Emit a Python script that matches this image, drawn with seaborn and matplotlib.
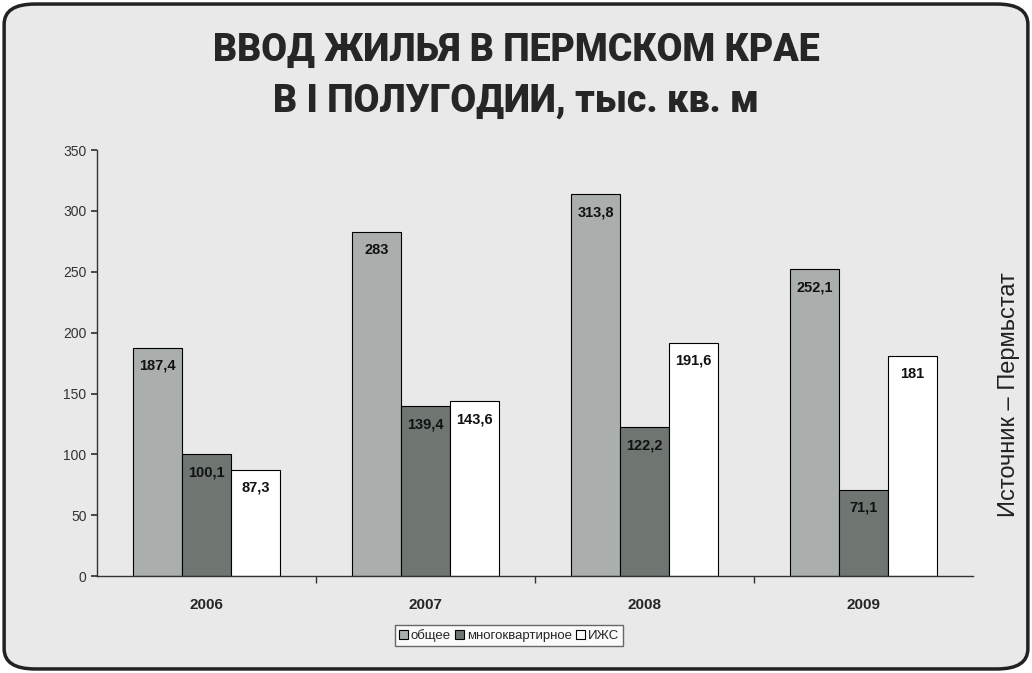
import matplotlib
matplotlib.use("Agg")
import matplotlib.pyplot as plt
from matplotlib.patches import FancyBboxPatch
import seaborn as sns
import pandas as pd

years = ['2006', '2007', '2008', '2009']
series = ['общее', 'многоквартирное', 'ИЖС']
total = [187.4, 283, 313.8, 252.1]
multi = [100.1, 139.4, 122.2, 71.1]
izhs = [87.3, 143.6, 191.6, 181]
colors = ['#a9b0ae', '#6e7772', '#ffffff']

df = pd.DataFrame({
    'year': years * 3,
    'type': [s for s in series for _ in years],
    'value': total + multi + izhs,
})

sns.set_theme(style="white")
plt.rcParams['font.family'] = ['Liberation Sans', 'DejaVu Sans']

fig = plt.figure(figsize=(10.32, 6.73), dpi=100)
fig.patch.set_facecolor('white')
bg = FancyBboxPatch((0.004, 0.006), 0.992, 0.988, boxstyle="round,pad=0,rounding_size=0.03",
                    transform=fig.transFigure, facecolor='#e9e9e9', edgecolor='#222222',
                    lw=2.5, zorder=-10)
fig.patches.append(bg)

ax = fig.add_axes([0.094, 0.144, 0.849, 0.633])
ax.set_facecolor('none')
sns.barplot(data=df, x='year', y='value', hue='type', palette=colors, width=0.67,
            edgecolor='black', linewidth=0.8, ax=ax, legend=True)

for cont in ax.containers:
    labels = [f"{v:g}".replace('.', ',') for v in cont.datavalues]
    ax.bar_label(cont, labels=labels, padding=-18, fontsize=10.5, fontweight='bold', color='#111111')

ax.set_ylim(0, 350)
ax.set_yticks(range(0, 351, 50))
ax.set_xlim(-0.5, 3.5)
ax.set_xlabel('')
ax.set_ylabel('')
for s in ['top', 'right']:
    ax.spines[s].set_visible(False)
for s in ['left', 'bottom']:
    ax.spines[s].set_color('#333333')
    ax.spines[s].set_linewidth(1)
ax.tick_params(axis='y', labelsize=10, color='#333333', length=4, left=True, labelcolor='#333333')
ax.tick_params(axis='x', labelsize=11, bottom=False, pad=10)
for lbl in ax.get_xticklabels():
    lbl.set_fontweight('bold')
ax.set_xticks([0.5, 1.5, 2.5], minor=True)
ax.tick_params(axis='x', which='minor', bottom=True, length=5, color='#333333')

ax.legend(loc='upper center', bbox_to_anchor=(0.47, -0.1), ncol=3, fontsize=9.5,
          frameon=True, fancybox=False, edgecolor='#444444', handlelength=0.7,
          handleheight=0.7, handletextpad=0.2, columnspacing=0.3, borderpad=0.3)

fig.text(0.5, 0.925, 'ВВОД ЖИЛЬЯ В ПЕРМСКОМ КРАЕ', ha='center', va='center',
         fontsize=27, fontweight='heavy', family=['Roboto', 'DejaVu Sans'])
fig.text(0.5, 0.85, 'В I ПОЛУГОДИИ, тыс. кв. м', ha='center', va='center',
         fontsize=27, fontweight='heavy', family=['Roboto', 'DejaVu Sans'])
fig.text(0.978, 0.413, 'Источник – Пермьстат', rotation=90, ha='center', va='center',
         fontsize=17, color='#222222')

fig.savefig('out.png', dpi=100, facecolor=fig.get_facecolor())
